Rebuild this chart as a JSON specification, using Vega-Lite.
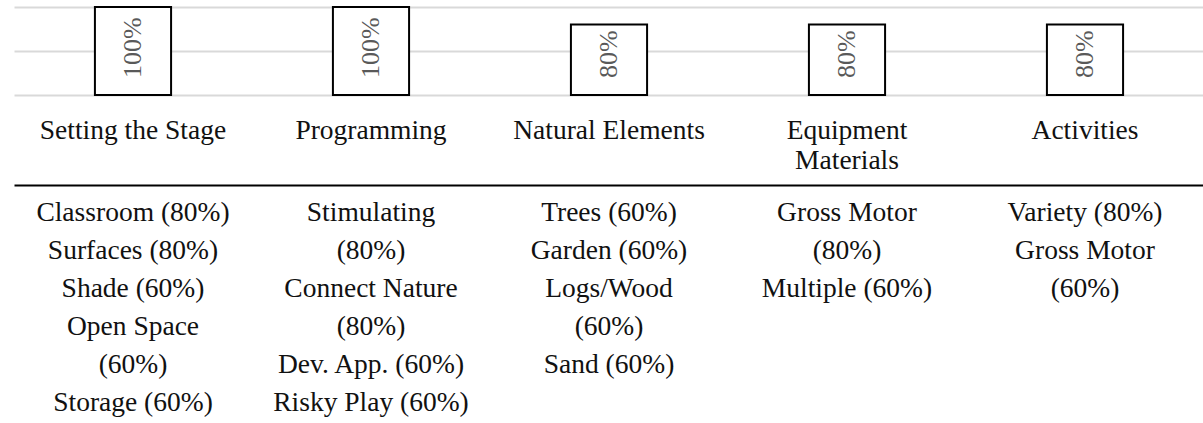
{
  "$schema": "https://vega.github.io/schema/vega-lite/v6.json",
  "padding": {"left": 14, "top": 6, "right": 0, "bottom": 0},
  "background": "white",
  "bounds": "flush",
  "spacing": 90,
  "config": {
    "view": {"stroke": null},
    "text": {"font": "Liberation Serif"},
    "axis": {"labelFont": "Liberation Serif"}
  },
  "datasets": {
    "bars": [
      {"category": "Setting the Stage", "pct": 1.0, "label": "100%"},
      {"category": "Programming", "pct": 1.0, "label": "100%"},
      {"category": "Natural Elements", "pct": 0.8, "label": "80%"},
      {"category": "Equipment Materials", "pct": 0.8, "label": "80%"},
      {"category": "Activities", "pct": 0.8, "label": "80%"}
    ],
    "items": [
      {"category": "Setting the Stage", "line": 0, "text": "Classroom (80%)"},
      {"category": "Setting the Stage", "line": 1, "text": "Surfaces (80%)"},
      {"category": "Setting the Stage", "line": 2, "text": "Shade (60%)"},
      {"category": "Setting the Stage", "line": 3, "text": "Open Space"},
      {"category": "Setting the Stage", "line": 4, "text": "(60%)"},
      {"category": "Setting the Stage", "line": 5, "text": "Storage (60%)"},
      {"category": "Programming", "line": 0, "text": "Stimulating"},
      {"category": "Programming", "line": 1, "text": "(80%)"},
      {"category": "Programming", "line": 2, "text": "Connect Nature"},
      {"category": "Programming", "line": 3, "text": "(80%)"},
      {"category": "Programming", "line": 4, "text": "Dev. App. (60%)"},
      {"category": "Programming", "line": 5, "text": "Risky Play (60%)"},
      {"category": "Natural Elements", "line": 0, "text": "Trees (60%)"},
      {"category": "Natural Elements", "line": 1, "text": "Garden (60%)"},
      {"category": "Natural Elements", "line": 2, "text": "Logs/Wood"},
      {"category": "Natural Elements", "line": 3, "text": "(60%)"},
      {"category": "Natural Elements", "line": 4, "text": "Sand (60%)"},
      {"category": "Equipment Materials", "line": 0, "text": "Gross Motor"},
      {"category": "Equipment Materials", "line": 1, "text": "(80%)"},
      {"category": "Equipment Materials", "line": 2, "text": "Multiple (60%)"},
      {"category": "Activities", "line": 0, "text": "Variety (80%)"},
      {"category": "Activities", "line": 1, "text": "Gross Motor"},
      {"category": "Activities", "line": 2, "text": "(60%)"}
    ]
  },
  "vconcat": [
    {
      "width": 1190,
      "height": 88,
      "data": {"name": "bars"},
      "encoding": {
        "x": {
          "field": "category",
          "type": "nominal",
          "sort": ["Setting the Stage", "Programming", "Natural Elements", "Equipment Materials", "Activities"],
          "scale": {"paddingInner": 0.68, "paddingOuter": 0.34},
          "axis": {
            "title": null,
            "orient": "bottom",
            "domain": false,
            "ticks": false,
            "grid": false,
            "labelAngle": 0,
            "labelFont": "Liberation Serif",
            "labelFontSize": 27.5,
            "labelColor": "#111111",
            "labelPadding": 21,
            "labelLineHeight": 30,
            "labelBaseline": "top",
            "labelLimit": 0,
            "labelExpr": "datum.value == 'Equipment Materials' ? ['Equipment', 'Materials'] : datum.value"
          }
        }
      },
      "layer": [
        {
          "mark": {"type": "bar", "fill": "white", "stroke": "black", "strokeWidth": 2},
          "encoding": {
            "y": {
              "field": "pct",
              "type": "quantitative",
              "scale": {"domain": [0, 1], "nice": false},
              "axis": {
                "title": null,
                "values": [0, 0.5, 1],
                "grid": true,
                "gridColor": "#d9d9d9",
                "gridWidth": 2,
                "labels": false,
                "ticks": false,
                "domain": false
              }
            }
          }
        },
        {
          "mark": {
            "type": "text",
            "angle": 270,
            "align": "left",
            "baseline": "middle",
            "dx": 17,
            "font": "Liberation Serif",
            "fontSize": 26,
            "color": "#595959"
          },
          "encoding": {
            "y": {"datum": 0, "type": "quantitative"},
            "text": {"field": "label"}
          }
        }
      ]
    },
    {
      "width": 1190,
      "height": 228,
      "data": {"name": "items"},
      "mark": {
        "type": "text",
        "align": "center",
        "baseline": "alphabetic",
        "dy": 17,
        "font": "Liberation Serif",
        "fontSize": 27.5,
        "color": "#111111"
      },
      "encoding": {
        "x": {
          "field": "category",
          "type": "nominal",
          "sort": ["Setting the Stage", "Programming", "Natural Elements", "Equipment Materials", "Activities"],
          "scale": {"paddingInner": 0.68, "paddingOuter": 0.34},
          "axis": {
            "orient": "top",
            "title": null,
            "labels": false,
            "ticks": false,
            "grid": false,
            "domain": true,
            "domainColor": "black",
            "domainWidth": 2
          }
        },
        "y": {
          "field": "line",
          "type": "ordinal",
          "scale": {"type": "point", "domain": [0, 1, 2, 3, 4, 5], "padding": 0.5},
          "axis": null
        },
        "text": {"field": "text"}
      }
    }
  ]
}
